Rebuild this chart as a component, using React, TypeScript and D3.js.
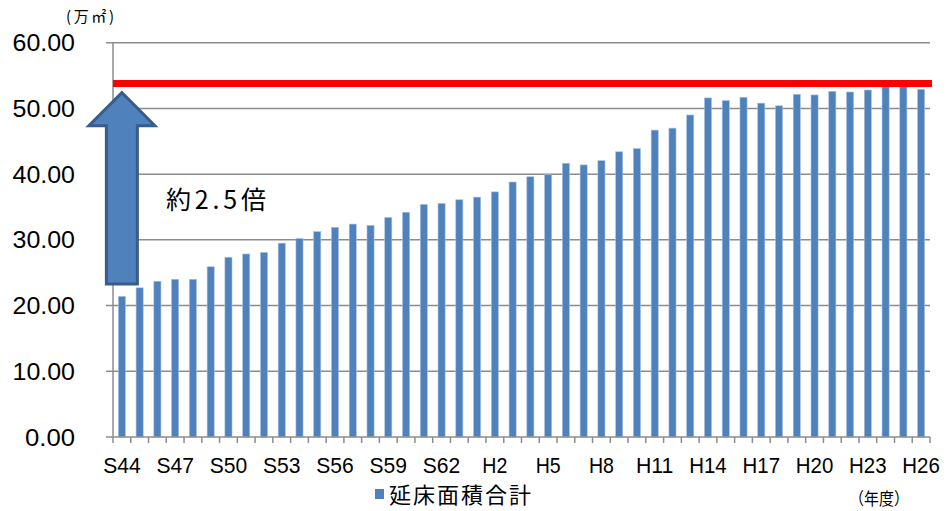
import React from "react";
import * as d3 from "d3";

// Fiscal years (Showa 44 – Heisei 26)
const YEARS = [
  "S44", "S45", "S46", "S47", "S48", "S49", "S50", "S51", "S52", "S53",
  "S54", "S55", "S56", "S57", "S58", "S59", "S60", "S61", "S62", "S63",
  "H1", "H2", "H3", "H4", "H5", "H6", "H7", "H8", "H9", "H10",
  "H11", "H12", "H13", "H14", "H15", "H16", "H17", "H18", "H19", "H20",
  "H21", "H22", "H23", "H24", "H25", "H26",
];

// Total floor area (10,000 m²)
const FLOOR_AREA = [
  21.4, 22.7, 23.7, 24.0, 24.0, 25.9, 27.35, 27.85, 28.1, 29.5,
  30.2, 31.25, 31.9, 32.4, 32.2, 33.4, 34.2, 35.4, 35.55, 36.1,
  36.5, 37.3, 38.8, 39.6, 39.9, 41.65, 41.4, 42.05, 43.4, 43.9,
  46.7, 47.0, 49.0, 51.6, 51.2, 51.7, 50.8, 50.4, 52.15, 52.05,
  52.6, 52.5, 52.8, 53.3, 53.4, 52.9,
];

const X_TICK_LABELS = [
  "S44", "S47", "S50", "S53", "S56", "S59", "S62",
  "H2", "H5", "H8", "H11", "H14", "H17", "H20", "H23", "H26",
];
const Y_TICKS = [0, 10, 20, 30, 40, 50, 60];

const PEAK_LINE = 53.8;
const ARROW_FROM = 23.3;
const ARROW_TO = 52.4;
const GROWTH_LABEL = "約2.5倍";
const SERIES_NAME = "延床面積合計";
const UNIT_LABEL = "(万㎡)";
const YEAR_UNIT = "（年度）";

const W = 946;
const H = 511;
const LEFT = 113;
const RIGHT = 930;
const TOP = 42.7;
const BOTTOM = 437;

const BAR = "#4F81BD";
const BAR_DARK = "#385D8A";
const GRID = "#8C8C8C";
const NUM_FONT = "'Liberation Sans', Arial, sans-serif";
const CJK_FONT = "'Noto Sans CJK JP', 'Noto Sans', sans-serif";

export default function App() {
  const x = d3
    .scaleBand<string>()
    .domain(YEARS)
    .range([LEFT, RIGHT])
    .paddingInner(0.6)
    .paddingOuter(0.3);
  const y = d3.scaleLinear().domain([0, 60]).range([BOTTOM, TOP]);
  const step = x.step();
  const bw = x.bandwidth();
  const cx = (k: string) => (x(k) as number) + bw / 2;

  // Block arrow pointing up from the first year's level to the recent level
  const ax = cx(YEARS[0]);
  const shaftHalf = 15.5;
  const headHalf = 33;
  const headBase = y(ARROW_TO) + 33;
  const arrowPath = [
    [ax - shaftHalf, y(ARROW_FROM)],
    [ax - shaftHalf, headBase],
    [ax - headHalf, headBase],
    [ax, y(ARROW_TO)],
    [ax + headHalf, headBase],
    [ax + shaftHalf, headBase],
    [ax + shaftHalf, y(ARROW_FROM)],
  ];
  const arrowD = d3.line()(arrowPath as [number, number][]) + "Z";

  const numText = (s: string) => s.length * 12.5;

  return (
    <svg
      width={W}
      height={H}
      style={{ position: "absolute", left: 0, top: 0, background: "#fff" }}
    >
      {/* gridlines */}
      {Y_TICKS.filter((t) => t > 0).map((t) => (
        <line
          key={"g" + t}
          x1={LEFT - 7}
          x2={RIGHT}
          y1={y(t)}
          y2={y(t)}
          stroke={GRID}
          strokeWidth={1.5}
        />
      ))}
      {/* y axis */}
      <line x1={LEFT} x2={LEFT} y1={TOP} y2={BOTTOM} stroke={GRID} strokeWidth={1.5} />
      <line x1={LEFT - 7} x2={LEFT} y1={BOTTOM} y2={BOTTOM} stroke={GRID} strokeWidth={1.5} />
      {Y_TICKS.map((t) => {
        const s = t.toFixed(2);
        return (
          <text
            key={"yl" + t}
            x={75}
            y={y(t) + 8.5}
            textAnchor="end"
            fontFamily={NUM_FONT}
            fontSize={23}
            textLength={numText(s)}
            lengthAdjust="spacingAndGlyphs"
            fill="#000"
          >
            {s}
          </text>
        );
      })}

      {/* bars */}
      {YEARS.map((k, i) => (
        <rect
          key={k}
          x={x(k)}
          y={y(FLOOR_AREA[i])}
          width={bw}
          height={BOTTOM - y(FLOOR_AREA[i])}
          fill={BAR}
          stroke="#A9C1DF"
          strokeWidth={0.6}
        />
      ))}

      {/* x axis */}
      <line x1={LEFT} x2={RIGHT} y1={BOTTOM} y2={BOTTOM} stroke={GRID} strokeWidth={1.5} />
      {d3.range(YEARS.length + 1).map((i) => (
        <line
          key={"xt" + i}
          x1={LEFT + i * step}
          x2={LEFT + i * step}
          y1={BOTTOM}
          y2={BOTTOM + 6}
          stroke={GRID}
          strokeWidth={1.5}
        />
      ))}
      {X_TICK_LABELS.map((k) => (
        <text
          key={"xl" + k}
          x={cx(k)}
          y={473}
          textAnchor="middle"
          fontFamily={NUM_FONT}
          fontSize={22}
          textLength={numText(k)}
          lengthAdjust="spacingAndGlyphs"
          fill="#000"
        >
          {k}
        </text>
      ))}

      {/* peak reference line */}
      <line
        x1={LEFT}
        x2={RIGHT + 2}
        y1={y(PEAK_LINE)}
        y2={y(PEAK_LINE)}
        stroke="#FF0000"
        strokeWidth={7}
      />

      {/* growth arrow */}
      <path d={arrowD} fill={BAR} stroke={BAR_DARK} strokeWidth={3} strokeLinejoin="miter" />
      <text
        x={166}
        y={209}
        fontFamily={CJK_FONT}
        fontSize={25}
        textLength={100}
        lengthAdjust="spacing"
        fill="#000"
      >
        {GROWTH_LABEL}
      </text>

      {/* unit labels */}
      <text
        x={66}
        y={22}
        fontFamily={CJK_FONT}
        fontSize={15}
        textLength={48}
        lengthAdjust="spacing"
        fill="#000"
      >
        {UNIT_LABEL}
      </text>
      <text
        x={849}
        y={505}
        fontFamily={CJK_FONT}
        fontSize={17}
        textLength={60}
        lengthAdjust="spacingAndGlyphs"
        fill="#000"
      >
        {YEAR_UNIT}
      </text>

      {/* legend */}
      <rect x={375} y={489} width={9} height={10} fill={BAR} />
      <text
        x={389}
        y={503}
        fontFamily={CJK_FONT}
        fontSize={22}
        textLength={142}
        lengthAdjust="spacing"
        fill="#000"
      >
        {SERIES_NAME}
      </text>
    </svg>
  );
}
